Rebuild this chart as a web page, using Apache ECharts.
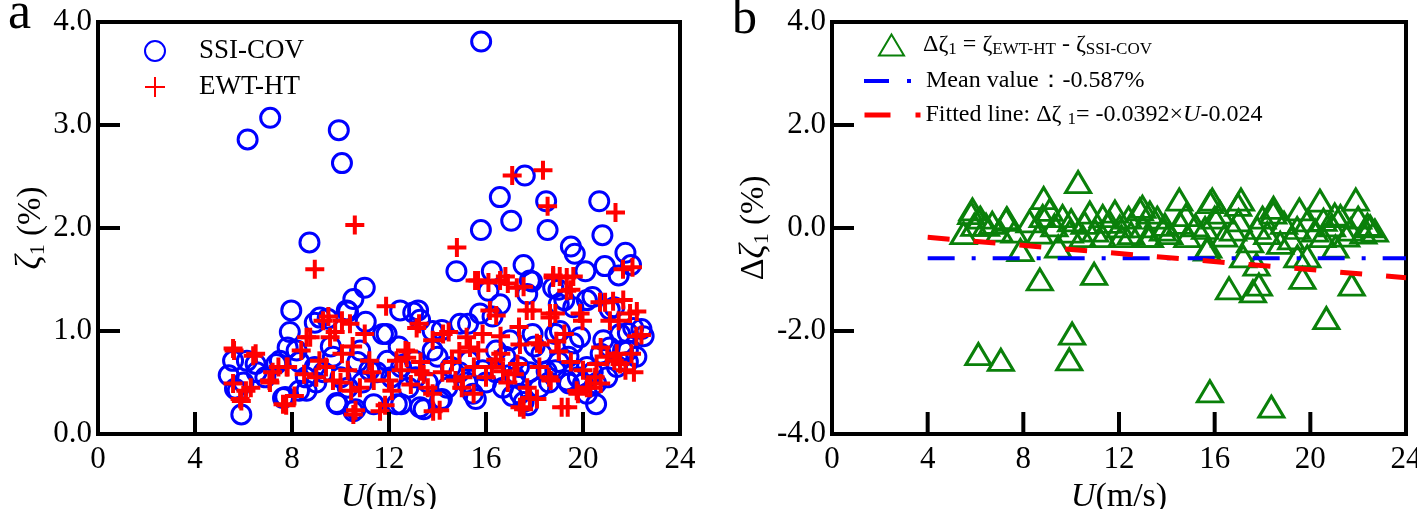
<!DOCTYPE html>
<html>
<head>
<meta charset="utf-8">
<script src="https://cdn.jsdelivr.net/npm/echarts@6/dist/echarts.min.js"></script>
<style>html,body{margin:0;padding:0;background:#fff;}#c{width:1417px;height:509px;}</style>
</head>
<body>
<div id="c"></div>
<script>
// ---------- DATA ----------
var xTicks = [0, 4, 8, 12, 16, 20, 24];
var yTicksA = ['0.0', '1.0', '2.0', '3.0', '4.0'];
var yTicksB = ['-4.0', '-2.0', '0.0', '2.0', '4.0'];
// inner tick marks (value, axis minimum of the other axis)
var innerXTicksA = [[4, 0], [8, 0], [12, 0], [16, 0], [20, 0]];
var innerYTicksA = [[0, 1], [0, 2], [0, 3]];
var innerXTicksB = [[4, -4], [8, -4], [12, -4], [16, -4], [20, -4]];
var innerYTicksB = [[0, -2], [0, 0], [0, 2]];

// Panel a: SSI-COV damping ratio [U (m/s), zeta1 (%)]
var ssiCov = [
 [15.8,3.81],[6.17,2.86],[7.1,3.07],[9.93,2.95],[10.06,2.63],[8.72,1.86],[16.57,2.30],[17.04,2.07],[17.6,2.51],
 [18.48,2.26],[18.54,1.98],[20.67,2.26],[20.8,1.93],[21.75,1.76],[21.98,1.64],[19.5,1.82],[19.66,1.75],[20.1,1.58],
 [20.9,1.63],[21.47,1.54],[15.79,1.98],[14.78,1.58],[16.24,1.58],[17.55,1.64],[17.9,1.48],[18.99,1.40],[20.39,1.33],
 [11.0,1.42],[10.53,1.31],[10.31,1.19],[16.1,1.39],[17.7,1.36],[21.29,1.23],[7.97,1.20],[7.91,0.99],[8.94,1.08],
 [9.47,1.12],[11.04,1.09],[12.46,1.20],[13.2,1.20],[13.28,1.11],[11.9,0.97],[15.26,1.07],[14.18,1.01],[22.41,1.02],
 [21.85,0.98],[16.27,1.14],[19.23,1.30],[20.16,1.30],
 [5.91,0.19],[5.57,0.71],[5.39,0.57],[6.14,0.71],[6.5,0.68],[5.76,0.42],[7.35,0.68],[7.72,0.36],[8.29,0.42],
 [8.19,0.81],[7.82,0.84],[9.88,0.29],[10.62,0.24],[11.37,0.29],[11.93,0.71],[12.5,0.29],[13.43,0.24],[14.18,0.34],
 [15.58,0.34],[17.08,0.37],[17.73,0.28],[17.55,0.31],[19.42,0.49],[20.16,0.39],[18.86,0.62],[19.6,0.88],[21.1,0.84],
 [21.85,0.81],[21.85,0.70],[20.73,0.78],[20.16,0.65],[15.3,0.71],[14.55,0.65],[13.8,0.81],[13.06,0.71],[12.5,0.65],
 [11.19,0.62],[10.81,0.81],[9.69,0.75],[8.94,0.65],[8.57,0.55],[16.42,0.81],[17.36,0.65],[18.29,0.78],[16.98,0.91],
 [17.92,0.97],[15.86,0.62],[18.86,0.97],[19.79,0.55],[20.54,0.49],[20.54,0.29],
 [5.65,0.44],[7.63,0.35],[8.6,0.42],[10.53,0.22],[13.28,0.26],[12.32,0.29],[9.84,0.30],[14.1,0.32],[15.46,0.39],
 [17.4,0.39],[19.33,0.52],[20.0,0.49],[18.5,0.61],[14.93,1.07],[15.75,1.17],[16.58,1.26],[17.81,1.49],[18.77,1.42],
 [19.0,1.26],[19.6,1.23],[21.1,1.21],[22.07,1.03],[21.53,0.97],[20.84,0.91],[21.65,0.81],[19.88,0.94],[19.05,1.0],
 [13.8,1.0],[9.15,1.13],[10.26,1.20],[13.0,1.18],[11.75,0.97],[6.54,0.60],[7.5,0.71],
 [9.0,0.50],[9.3,0.60],[10.0,0.55],[10.3,0.45],[10.9,0.50],[11.5,0.60],[12.1,0.55],[12.8,0.45],[13.1,0.55],
 [13.6,0.50],[14.4,0.45],[14.9,0.60],[15.2,0.50],[16.0,0.50],[16.4,0.60],[16.7,0.45],[17.2,0.55],[17.8,0.60],
 [18.2,0.45],[18.6,0.50],[19.0,0.70],[19.4,0.75],[20.4,0.60],[21.0,0.55],[21.4,0.65],[22.2,0.75],[22.5,0.95],
 [12.4,0.85],[14.0,0.75],[16.8,0.75],[18.0,0.85],[10.7,0.70],[9.6,0.85],[8.3,0.70],[6.9,0.55],[6.0,0.50]
];

// Panel a: EWT-HT damping ratio [U (m/s), zeta1 (%)]
var ewtHt = [
 [17.08,2.51],[18.35,2.56],[18.54,2.21],[21.34,2.15],[10.59,2.03],[8.94,1.60],[14.8,1.81],[22.04,1.62],[15.67,1.49],
 [16.1,1.47],[16.8,1.53],[16.9,1.46],[17.55,1.43],[19.04,1.53],[19.6,1.53],[19.5,1.40],[11.88,1.24],[20.91,1.28],
 [21.66,1.30],[21.47,1.10],[22.22,1.19],[22.41,0.96],[17.92,1.20],[18.86,1.17],[9.5,1.14],[10.06,1.10],[9.78,0.99],
 [11.0,0.97],[13.24,1.07],[14.46,0.99],[16.42,1.15],[5.61,0.81],[6.5,0.78],[5.91,0.32],[5.57,0.49],[6.1,0.42],
 [7.07,0.52],[7.76,0.28],[8.1,0.37],[7.82,0.65],[8.38,0.81],[8.75,0.94],[9.13,0.71],[9.69,0.52],[10.62,0.23],
 [10.44,0.42],[11.37,0.52],[11.84,0.28],[12.12,0.42],[12.68,0.81],[13.43,0.58],[14.09,0.23],[13.8,0.39],[14.74,0.52],
 [15.49,0.39],[15.68,0.81],[15.86,0.97],[16.24,0.65],[16.61,0.78],[17.17,0.58],[17.55,0.24],[18.1,0.34],[18.67,0.52],
 [19.37,0.26],[19.79,0.39],[20.16,0.45],[20.73,0.49],[20.73,0.84],[21.29,0.71],[21.75,0.62],[22.0,0.78],[19.23,0.97],
 [19.98,1.10],[18.1,0.88],[17.36,1.04],[15.2,0.94],[13.8,0.91],[12.31,0.71],[11.19,0.71],[10.06,0.78],[7.44,0.65],
 [5.57,0.83],[6.4,0.76],[9.28,1.10],[10.39,1.07],[9.57,0.94],[8.6,0.94],[7.78,0.65],[7.63,0.29],[10.53,0.19],
 [11.63,0.22],[5.86,0.34],[7.09,0.50],[13.14,1.03],[12.73,0.74],
 [15.55,1.49],[16.58,1.49],[17.27,1.42],[18.77,1.52],[18.64,1.17],[16.16,1.20],[17.68,1.20],[17.4,0.87],[18.23,0.87],
 [15.34,0.84],[14.23,0.97],[17.4,0.26],[17.81,0.35],[13.82,0.22],[15.05,0.55],[13.28,0.61],[16.7,0.61],
 [21.65,1.60],[18.77,1.54],[19.33,1.52],[19.33,1.39],[20.7,1.28],[21.24,1.29],[21.94,1.17],[21.11,1.10],[22.2,0.95],
 [21.53,0.68],[21.39,0.78],[20.56,0.68],[19.74,0.42],[20.3,0.45],[19.12,0.26],[18.64,1.13],[19.88,1.17],
 [9.0,0.55],[9.4,0.65],[10.0,0.50],[10.3,0.62],[10.8,0.45],[11.3,0.60],[12.0,0.52],[12.5,0.62],[12.9,0.48],
 [13.3,0.70],[13.6,0.45],[14.2,0.60],[14.6,0.70],[15.0,0.45],[15.5,0.65],[16.0,0.55],[16.4,0.72],[16.9,0.50],
 [17.3,0.68],[17.7,0.45],[18.2,0.65],[18.6,0.55],[19.0,0.80],[19.5,0.70],[20.0,0.62],[20.5,0.55],[21.0,0.75],
 [22.1,0.60],[8.5,0.58],[7.2,0.60],[6.3,0.45],[10.5,0.85],[12.8,0.80],[14.9,0.80],[16.6,0.95],[18.9,0.90]
];

// Panel b: difference [U (m/s), delta zeta1 (%)]
var deltaZeta = [
 [10.29,0.89],[6.12,-2.45],[7.06,-2.56],[10.04,-2.05],[9.92,-2.55],[15.8,-3.17],[18.37,-3.47],[20.67,-1.75],
 [8.69,-1.0],[10.96,-0.89],[16.6,-1.17],[17.6,-1.23],[17.85,-1.1],[17.75,-0.71],[19.67,-0.97],[21.73,-1.1],
 [19.46,-0.55],[19.87,-0.55],[15.73,-0.36],[7.88,-0.43],[9.46,-0.36],
 [8.85,0.58],[14.52,0.55],[15.9,0.55],[17.1,0.55],[20.4,0.53],[21.9,0.55],[5.87,0.36],[12.98,0.41],[18.46,0.39],
 [19.54,0.36],[11.83,0.32],[7.31,0.19],[22.5,0.03],[21.02,0.26],
 [5.82,0.29],[5.95,0.06],[7.28,0.16],[7.63,-0.07],[8.26,0.13],[8.81,0.23],[8.68,-0.09],[9.64,0.23],[10.56,0.10],
 [10.78,0.30],[11.32,0.23],[12.03,0.03],[12.87,0.36],[13.0,0.03],[13.84,-0.03],[11.32,-0.16],[10.48,-0.16],
 [6.44,0.06],[12.1,-0.16],[13.2,-0.16],[9.94,-0.07],
 [13.92,0.06],[15.6,0.0],[16.77,-0.03],[17.78,0.0],[18.45,0.30],[19.45,0.0],[20.5,-0.16],[21.68,-0.03],[22.39,0.06],
 [15.68,-0.42],[17.48,-0.26],[18.74,-0.29],[21.05,-0.36],[17.19,-0.55],[13.29,0.30],[13.29,-0.16],[14.86,-0.16],
 [14.55,0.10],[16.23,0.30],[20.55,0.16],[21.26,0.23],[22.22,-0.09],[16.98,0.45],[15.81,0.50],
 [5.5,-0.1],[6.2,0.2],[6.7,0.1],[7.0,-0.05],[9.1,0.35],[9.3,0.05],[10.0,0.15],[11.0,-0.05],[11.6,0.12],[12.4,0.2],
 [12.5,-0.1],[13.6,0.2],[14.1,-0.1],[14.8,0.25],[15.2,0.05],[16.0,0.2],[16.4,-0.15],[17.0,0.15],[18.0,0.2],
 [18.2,-0.1],[18.9,0.1],[19.2,-0.2],[19.9,0.15],[20.2,-0.05],[20.9,0.05],[21.5,-0.15],[22.0,0.2],[22.7,-0.05]
];

// Mean value line and fitted line endpoints [U, delta]
var meanLine = [[4, -0.587], [24, -0.587]];
var fitLine = [[4, -0.181], [24, -0.965]];

var names = {
  ssi: 'SSI-COV',
  ewt: 'EWT-HT',
  delta: 'Δζ1 = ζEWT-HT - ζSSI-COV',
  mean: 'Mean value：-0.587%',
  fit: 'Fitted line: Δζ 1= -0.0392×U-0.024'
};

// ---------- CHART ----------
var FF = '"Liberation Serif", "Times New Roman", serif';
var chart = echarts.init(document.getElementById('c'), null, {renderer: 'canvas'});

function xAxisCfg(gi) {
  return {
    gridIndex: gi, type: 'value', min: 0, max: 24, interval: 4,
    axisLine: {show: true, onZero: false, lineStyle: {color: '#000', width: 4}},
    axisTick: {show: false},
    axisLabel: {color: '#000', fontFamily: FF, fontSize: 31, margin: 10,
      formatter: function (v) { return xTicks.indexOf(v) >= 0 ? String(v) : ''; }},
    splitLine: {show: false},
    name: '{i|U}{n|(m/s)}', nameLocation: 'middle', nameGap: 28,
    nameTextStyle: {color: '#000', fontFamily: FF, fontSize: 34,
      rich: {i: {fontStyle: 'italic', fontFamily: FF, fontSize: 34, color: '#000'},
             n: {fontFamily: FF, fontSize: 34, color: '#000'}}}
  };
}
function yAxisCfg(gi, min, max, interval, labels, name, gap) {
  return {
    gridIndex: gi, type: 'value', min: min, max: max, interval: interval,
    axisLine: {show: true, onZero: false, lineStyle: {color: '#000', width: 4}},
    axisTick: {show: false},
    axisLabel: {color: '#000', fontFamily: FF, fontSize: 31, margin: 6,
      formatter: function (v) { var s = v.toFixed(1); return labels.indexOf(s) >= 0 ? s : ''; }},
    splitLine: {show: false},
    name: name, nameLocation: 'middle', nameGap: gap, nameRotate: 90,
    nameTextStyle: {color: '#000', fontFamily: FF, fontSize: 33,
      rich: {i: {fontStyle: 'italic', fontFamily: FF, fontSize: 35, color: '#000'},
             d: {fontFamily: FF, fontSize: 34, color: '#000'},
             s: {fontFamily: FF, fontSize: 22, color: '#000', padding: [15, 0, 0, 0]},
             n: {fontFamily: FF, fontSize: 33, color: '#000'}}}
  };
}

function tickSeries(gi, data, horizontal) {
  return {
    type: 'custom', xAxisIndex: gi, yAxisIndex: gi, data: data, silent: true, z: 20,
    renderItem: function (params, api) {
      var p = api.coord([api.value(0), api.value(1)]);
      var shape = horizontal
        ? {x1: p[0], y1: p[1], x2: p[0] + 22, y2: p[1]}
        : {x1: p[0], y1: p[1], x2: p[0], y2: p[1] - 22};
      return {type: 'line', shape: shape, style: {stroke: '#000', lineWidth: 4}};
    }
  };
}

var legendText = {color: '#000', fontFamily: FF, fontSize: 27, lineHeight: 30,
  rich: {p: {fontFamily: FF, fontSize: 27, color: '#000', padding: [0, 0, 0, 28]}}};
var legendTextB = {color: '#000', fontFamily: FF, fontSize: 24, lineHeight: 28,
  rich: {
    t: {fontFamily: FF, fontSize: 24, color: '#000'},
    p: {fontFamily: FF, fontSize: 24, color: '#000', padding: [0, 0, 0, 14]},
    q: {fontFamily: FF, fontSize: 24, color: '#000', padding: [0, 0, 0, 10]},
    s: {fontFamily: FF, fontSize: 17, color: '#000', padding: [10, 0, 0, 0]},
    i: {fontFamily: FF, fontSize: 24, fontStyle: 'italic', color: '#000'}
  }};

var option = {
  backgroundColor: '#fff',
  animation: false,
  grid: [
    {left: 98, top: 22, width: 582, height: 412, show: true, borderColor: '#000', borderWidth: 4,
      backgroundColor: 'rgba(0,0,0,0)', containLabel: false, outerBoundsMode: 'none'},
    {left: 832, top: 22, width: 574, height: 412, show: true, borderColor: '#000', borderWidth: 4,
      backgroundColor: 'rgba(0,0,0,0)', containLabel: false, outerBoundsMode: 'none'}
  ],
  xAxis: [xAxisCfg(0), xAxisCfg(1)],
  yAxis: [
    yAxisCfg(0, 0, 4, 1, yTicksA, '{i|ζ}{s|1}{n| (%)}', 48),
    yAxisCfg(1, -4, 4, 2, yTicksB, '{d|Δ}{i|ζ}{s|1}{n| (%)}', 54)
  ],
  legend: [
    {data: [names.ssi], left: 139, top: 31, orient: 'vertical', itemWidth: 22, itemHeight: 20,
      textStyle: legendText, formatter: function (n) { return '{p|' + n + '}'; },
      selectedMode: false},
    {data: [names.ewt], left: 139, top: 67, orient: 'vertical', itemWidth: 22, itemHeight: 20,
      textStyle: legendText, formatter: function (n) { return '{p|' + n + '}'; },
      selectedMode: false},
    {data: [names.delta], left: 873, top: 26, itemWidth: 25, itemHeight: 21, textStyle: legendTextB,
      selectedMode: false,
      formatter: function () { return '{p|Δζ}{s|1}{t| = ζ}{s|EWT-HT}{t| - ζ}{s|SSI-COV}'; }},
    {data: [{name: names.mean, itemStyle: {opacity: 0},
             lineStyle: {color: '#0000ff', width: 4, type: [25, 18, 4, 18]}}],
      left: 857, top: 62, itemWidth: 47, itemHeight: 12, textStyle: legendTextB,
      selectedMode: false,
      formatter: function () { return '{q|Mean value：-0.587%}'; }},
    {data: [{name: names.fit, itemStyle: {opacity: 0},
             lineStyle: {color: '#ff0000', width: 5, type: [26, 25, 5, 40]}}],
      left: 857, top: 96, itemWidth: 56, itemHeight: 12, textStyle: legendTextB,
      selectedMode: false,
      formatter: function () { return '{t|Fitted line: Δζ }{s|1}{t|= -0.0392×}{i|U}{t|-0.024}'; }}
  ],
  series: [
    {name: names.ssi, type: 'scatter', xAxisIndex: 0, yAxisIndex: 0, data: ssiCov,
      symbol: 'circle', symbolSize: 19,
      itemStyle: {color: 'rgba(0,0,0,0)', borderColor: '#0000ff', borderWidth: 3, opacity: 1}},
    {name: names.ewt, type: 'scatter', xAxisIndex: 0, yAxisIndex: 0, data: ewtHt,
      symbol: 'path://M5,0L5,10M0,5L10,5', symbolSize: 19,
      itemStyle: {color: 'rgba(0,0,0,0)', borderColor: '#ff0000', borderWidth: 4, opacity: 1}},
    {name: names.delta, type: 'scatter', xAxisIndex: 1, yAxisIndex: 1, data: deltaZeta,
      symbol: 'triangle', symbolSize: [25, 21],
      itemStyle: {color: 'rgba(0,0,0,0)', borderColor: '#0a800a', borderWidth: 3, opacity: 1}},
    {name: names.mean, type: 'line', xAxisIndex: 1, yAxisIndex: 1, data: meanLine,
      symbol: 'none', z: 3, itemStyle: {color: 'rgba(0,0,0,0)'},
      lineStyle: {color: '#0000ff', width: 4, type: [27, 17, 4, 17]}},
    {name: names.fit, type: 'line', xAxisIndex: 1, yAxisIndex: 1, data: fitLine,
      symbol: 'none', z: 3, itemStyle: {color: 'rgba(0,0,0,0)'},
      lineStyle: {color: '#ff0000', width: 5, type: [22, 24]}},
    tickSeries(0, innerXTicksA, false),
    tickSeries(0, innerYTicksA, true),
    tickSeries(1, innerXTicksB, false),
    tickSeries(1, innerYTicksB, true)
  ],
  graphic: [
    {type: 'text', left: 8, top: -12, style: {text: 'a', font: '52px "Liberation Serif"', fill: '#000'}},
    {type: 'text', left: 732, top: -5, style: {text: 'b', font: '50px "Liberation Serif"', fill: '#000'}}
  ]
};
chart.setOption(option);
</script>
</body>
</html>
